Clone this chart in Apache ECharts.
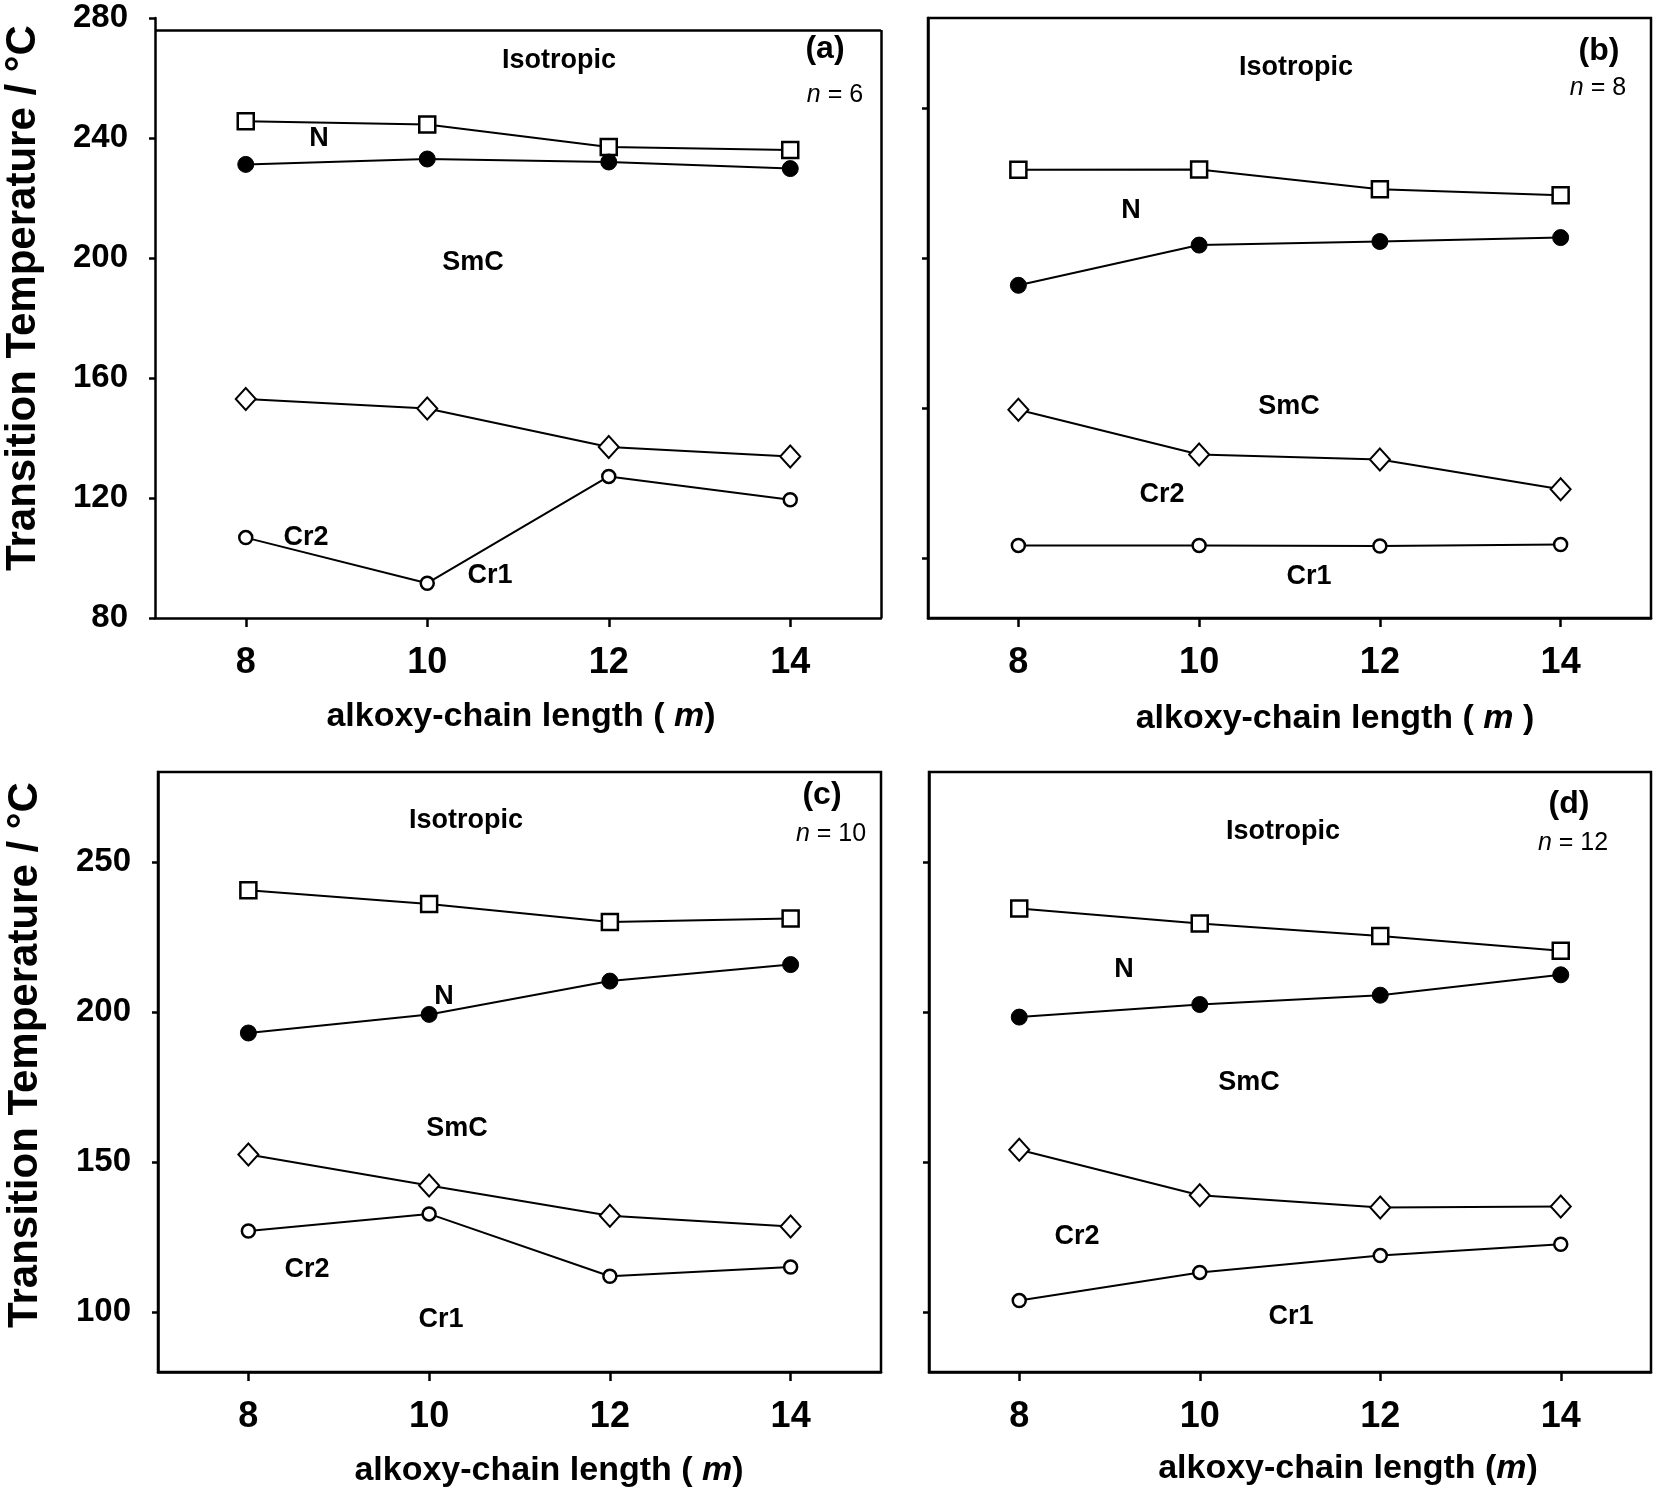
<!DOCTYPE html>
<html>
<head>
<meta charset="utf-8">
<title>Transition temperatures</title>
<script src="https://cdn.jsdelivr.net/npm/echarts@6/dist/echarts.min.js"></script>
<style>
  html, body { margin: 0; padding: 0; background: #fff; }
  #chart { width: 1658px; height: 1495px; }
</style>
</head>
<body>
<div id="chart"></div>
<script>
// alkoxy-chain length m
var mVals = [8, 10, 12, 14];

// (a) n = 6
var isoA = [245.6, 244.5, 237.0, 236.0];   // N -> Iso (open squares)
var nA   = [231.2, 233.0, 232.0, 229.8];   // SmC -> N (filled)
var smcA = [153.0, 149.8, 137.0, 133.8];   // Cr2 -> SmC (diamonds)
var crA  = [106.8, 91.6, 127.2, 119.4];    // Cr1 -> Cr2 (circles)

// (b) n = 8
var isoB = [229.4, 229.5, 222.9, 220.9];
var nB   = [190.9, 204.3, 205.5, 206.8];
var smcB = [149.4, 134.5, 132.8, 122.9];
var crB  = [104.2, 104.2, 104.0, 104.5];

// (c) n = 10
var isoC = [240.6, 236.0, 230.0, 231.2];
var nC   = [193.0, 199.2, 210.3, 215.8];
var smcC = [152.5, 142.2, 132.1, 128.5];
var crC  = [127.0, 132.7, 111.9, 115.0];

// (d) n = 12
var isoD = [234.5, 229.5, 225.3, 220.4];
var nD   = [198.3, 202.5, 205.6, 212.4];
var smcD = [154.1, 138.9, 134.8, 135.2];
var crD  = [103.8, 113.2, 118.8, 122.6];

// y ticks
var yTicksOther = [100, 150, 200, 250];
var frameTopA = 276;

var FONT = "'Liberation Sans', Arial, sans-serif";

var myChart = echarts.init(document.getElementById('chart'), null, { renderer: 'canvas' });

var grids = [
    { left: 155, top: 18, width: 726, height: 600, show: false },
    { left: 928, top: 18, width: 723, height: 600, show: true, borderColor: '#000', borderWidth: 2.5, backgroundColor: 'transparent' },
    { left: 158, top: 772, width: 723, height: 600, show: true, borderColor: '#000', borderWidth: 2.5, backgroundColor: 'transparent' },
    { left: 929, top: 772, width: 722, height: 600, show: true, borderColor: '#000', borderWidth: 2.5, backgroundColor: 'transparent' }
];

function xAx(i) {
    return {
        type: 'value', gridIndex: i, min: 7, max: 15,
        axisLine: { show: true, onZero: false, lineStyle: { color: '#000', width: 2.5 } },
        axisTick: { show: true, inside: false, length: 9, customValues: mVals, lineStyle: { color: '#000', width: 2.5 } },
        axisLabel: { show: true, customValues: mVals, margin: 27, color: '#000', fontSize: 36, fontWeight: 'bold', fontFamily: FONT },
        splitLine: { show: false }
    };
}

function yAx(i, labels) {
    var ax = {
        type: 'value', gridIndex: i, min: 80, max: 280,
        axisLine: { show: true, onZero: false, lineStyle: { color: '#000', width: 2.5 } },
        axisTick: { show: true, inside: false, length: 6, lineStyle: { color: '#000', width: 2.5 } },
        axisLabel: { show: labels, margin: 27, color: '#000', fontSize: 33, fontWeight: 'bold', fontFamily: FONT },
        splitLine: { show: false }
    };
    if (i === 0) {
        ax.interval = 40;
    } else {
        ax.axisTick.customValues = yTicksOther;
        ax.axisLabel.customValues = yTicksOther;
    }
    return ax;
}

var styles = {
    iso: { symbol: 'rect', symbolSize: 16, itemStyle: { color: '#fff', borderColor: '#000', borderWidth: 2.5 } },
    n:   { symbol: 'circle', symbolSize: 16, itemStyle: { color: '#000', borderColor: '#000', borderWidth: 1 } },
    smc: { symbol: 'diamond', symbolSize: [20, 22], itemStyle: { color: '#fff', borderColor: '#000', borderWidth: 2 } },
    cr:  { symbol: 'circle', symbolSize: 13, itemStyle: { color: '#fff', borderColor: '#000', borderWidth: 2.5 } }
};

function mk(gi, vals, kind, name) {
    var st = styles[kind];
    return {
        name: name, type: 'line', xAxisIndex: gi, yAxisIndex: gi,
        data: mVals.map(function (m, k) { return [m, vals[k]]; }),
        symbol: st.symbol, symbolSize: st.symbolSize, showAllSymbol: true,
        itemStyle: st.itemStyle,
        lineStyle: { color: '#000', width: 2 },
        emphasis: { disabled: true },
        silent: true
    };
}

var series = [
    mk(0, isoA, 'iso', 'N-Iso (a)'), mk(0, nA, 'n', 'SmC-N (a)'), mk(0, smcA, 'smc', 'Cr2-SmC (a)'), mk(0, crA, 'cr', 'Cr1-Cr2 (a)'),
    mk(1, isoB, 'iso', 'N-Iso (b)'), mk(1, nB, 'n', 'SmC-N (b)'), mk(1, smcB, 'smc', 'Cr2-SmC (b)'), mk(1, crB, 'cr', 'Cr1-Cr2 (b)'),
    mk(2, isoC, 'iso', 'N-Iso (c)'), mk(2, nC, 'n', 'SmC-N (c)'), mk(2, smcC, 'smc', 'Cr2-SmC (c)'), mk(2, crC, 'cr', 'Cr1-Cr2 (c)'),
    mk(3, isoD, 'iso', 'N-Iso (d)'), mk(3, nD, 'n', 'SmC-N (d)'), mk(3, smcD, 'smc', 'Cr2-SmC (d)'), mk(3, crD, 'cr', 'Cr1-Cr2 (d)')
];

// frame of panel (a): top line sits below the 280 tick
series[0].markLine = {
    silent: true, symbol: 'none', animation: false,
    label: { show: false },
    lineStyle: { color: '#000', width: 2.5, type: 'solid' },
    data: [
        [{ coord: [7, frameTopA] }, { coord: [15, frameTopA] }],
        [{ coord: [15, frameTopA] }, { coord: [15, 80] }]
    ]
};

function txt(x, y, s, size) {
    return {
        type: 'text', x: x, y: y, silent: true,
        style: { text: s, fill: '#000', font: 'bold ' + (size || 27) + 'px ' + FONT, align: 'center', verticalAlign: 'middle' }
    };
}
function nLabel(x, y, num) {
    return {
        type: 'text', x: x, y: y, silent: true,
        style: {
            text: '{i|n}{r| = ' + num + '}', align: 'center', verticalAlign: 'middle',
            rich: {
                i: { fontStyle: 'italic', fontSize: 25, fontFamily: FONT, fill: '#000' },
                r: { fontSize: 25, fontFamily: FONT, fill: '#000' }
            }
        }
    };
}
function xTitle(x, y, s) {
    return {
        type: 'text', x: x, y: y, silent: true,
        style: {
            text: s, align: 'center', verticalAlign: 'middle',
            rich: {
                b: { fontSize: 34, fontWeight: 'bold', fontFamily: FONT, fill: '#000' },
                i: { fontSize: 34, fontWeight: 'bold', fontStyle: 'italic', fontFamily: FONT, fill: '#000' }
            }
        }
    };
}
function yTitle(x, y) {
    return {
        type: 'text', x: x, y: y, rotation: Math.PI / 2, silent: true,
        style: { text: 'Transition Temperature / °C', fill: '#000', font: 'bold 42px ' + FONT, align: 'center', verticalAlign: 'middle' }
    };
}

var graphics = [
    // (a)
    txt(559, 61, 'Isotropic'), txt(825, 49, '(a)', 32), nLabel(835, 95, 6),
    txt(319, 139, 'N'), txt(473, 263, 'SmC'), txt(306, 538, 'Cr2'), txt(490, 576, 'Cr1'),
    // (b)
    txt(1296, 68, 'Isotropic'), txt(1599, 51, '(b)', 32), nLabel(1598, 88, 8),
    txt(1131, 211, 'N'), txt(1289, 407, 'SmC'), txt(1162, 495, 'Cr2'), txt(1309, 577, 'Cr1'),
    // (c)
    txt(466, 821, 'Isotropic'), txt(822, 795, '(c)', 32), nLabel(831, 834, 10),
    txt(444, 997, 'N'), txt(457, 1129, 'SmC'), txt(307, 1270, 'Cr2'), txt(441, 1320, 'Cr1'),
    // (d)
    txt(1283, 832, 'Isotropic'), txt(1569, 804, '(d)', 32), nLabel(1573, 843, 12),
    txt(1124, 970, 'N'), txt(1249, 1083, 'SmC'), txt(1077, 1237, 'Cr2'), txt(1291, 1317, 'Cr1'),
    // axis titles
    xTitle(521, 717, '{b|alkoxy-chain length ( }{i|m}{b|)}'),
    xTitle(1335, 719, '{b|alkoxy-chain length ( }{i|m}{b| )}'),
    xTitle(549, 1471, '{b|alkoxy-chain length ( }{i|m}{b|)}'),
    xTitle(1348, 1469, '{b|alkoxy-chain length (}{i|m}{b|)}'),
    yTitle(23, 298),
    yTitle(25, 1055)
];

var option = {
    backgroundColor: '#fff',
    animation: false,
    grid: grids,
    xAxis: [xAx(0), xAx(1), xAx(2), xAx(3)],
    yAxis: [yAx(0, true), yAx(1, false), yAx(2, true), yAx(3, false)],
    series: series,
    graphic: graphics
};

myChart.setOption(option);
</script>
</body>
</html>
